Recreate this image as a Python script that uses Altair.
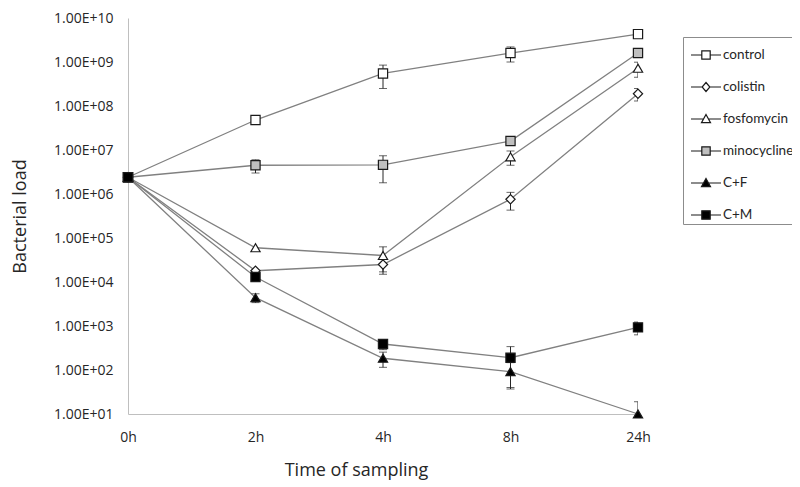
import altair as alt
import pandas as pd

times = ["0h", "2h", "4h", "8h", "24h"]
series = ["control", "colistin", "fosfomycin", "minocycline", "C+F", "C+M"]

control = [2.4e6, 4.8e7, 5.5e8, 1.6e9, 4.3e9]
colistin = [2.4e6, 1.8e4, 2.5e4, 7.6e5, 1.9e8]
fosfomycin = [2.4e6, 6.0e4, 4.0e4, 7.0e6, 7.2e8]
minocycline = [2.4e6, 4.5e6, 4.6e6, 1.6e7, 1.6e9]
c_f = [2.4e6, 4.4e3, 1.85e2, 9.2e1, 1.0e1]
c_m = [2.4e6, 1.3e4, 3.9e2, 1.9e2, 9.3e2]

control_sd = [0, 0, 3.0e8, 6.0e8, 0]
colistin_sd = [0, 0, 1.0e4, 3.3e5, 6.0e7]
fosfomycin_sd = [0, 0, 2.3e4, 2.5e6, 2.7e8]
minocycline_sd = [0, 1.5e6, 2.8e6, 3.0e6, 3.0e8]
c_f_sd = [0, 1.0e3, 7.0e1, 5.5e1, 9.0]
c_m_sd = [0, 2.0e3, 1.0e2, 1.5e2, 3.0e2]

y_ticks = [1e1, 1e2, 1e3, 1e4, 1e5, 1e6, 1e7, 1e8, 1e9, 1e10]

values = [control, colistin, fosfomycin, minocycline, c_f, c_m]
sds = [control_sd, colistin_sd, fosfomycin_sd, minocycline_sd, c_f_sd, c_m_sd]

rows = []
for s, vals, errs in zip(series, values, sds):
    for i, (t, v, e) in enumerate(zip(times, vals, errs)):
        rows.append({"series": s, "time": t, "t": i, "value": v, "sd": e,
                     "lo": v - e, "hi": v + e})
df = pd.DataFrame(rows)
err = df[df["sd"] > 0]

FONT = "Open Sans"
LFONT = "Lato"
TXT = "#262626"

shapes = ["square", "diamond", "triangle-up", "square", "triangle-up", "square"]
fills = ["white", "white", "white", "#bfbfbf", "black", "black"]
strokes = ["#1a1a1a"] * 6
legend_paths = [
    "M-1,0H-0.28M0.28,0H1M-0.28,-0.28H0.28V0.28H-0.28Z",
    "M-1,0H-0.26M0.26,0H1M0,-0.3L0.26,0L0,0.3L-0.26,0Z",
    "M-1,0H-0.17M0.17,0H1M0,-0.3L0.3,0.24H-0.3Z",
    "M-1,0H-0.28M0.28,0H1M-0.28,-0.28H0.28V0.28H-0.28Z",
    "M-1,0H-0.17M0.17,0H1M0,-0.3L0.3,0.24H-0.3Z",
    "M-1,0H-0.28M0.28,0H1M-0.28,-0.28H0.28V0.28H-0.28Z",
]

xs = alt.Scale(type="point", domain=times, padding=0)
x_enc = alt.X("time:N", scale=xs, sort=times,
              axis=alt.Axis(title="Time of sampling", labelFont=FONT, labelFontSize=14,
                            labelColor=TXT, labelPadding=16, labelAngle=0, ticks=False,
                            grid=False, domainColor="#bfbfbf", domainWidth=1,
                            titleFont=FONT, titleFontSize=18, titleFontWeight="normal",
                            titleColor=TXT, titleX=228, titleY=56, titleBaseline="middle"))
ys = alt.Scale(type="log", domain=[10, 1e10], nice=False)
y_enc = alt.Y("value:Q", scale=ys,
              axis=alt.Axis(values=y_ticks,
                            labelExpr="'1.00E+' + format(round(log(datum.value)/LN10), '02d')",
                            labelFont=FONT, labelFontSize=14, labelColor=TXT, labelPadding=15,
                            ticks=False, grid=False, domainColor="#bfbfbf", domainWidth=1,
                            title="Bacterial load", titleFont=FONT, titleFontSize=18,
                            titleFontWeight="normal", titleColor=TXT, titleX=-108, titleY=198,
                            titleBaseline="middle"))

lines = alt.Chart(df).mark_line(color="#808080", strokeWidth=1.3).encode(
    x=x_enc, y=y_enc, detail="series:N", order=alt.Order("t:Q"))

rules = alt.Chart(err).mark_rule(color=TXT, strokeWidth=1, clip=True).encode(
    x=alt.X("time:N", scale=xs, sort=times), y=alt.Y("lo:Q", scale=ys), y2="hi:Q")
caps_hi = alt.Chart(err).mark_tick(color=TXT, size=8, thickness=1, clip=True).encode(
    x=alt.X("time:N", scale=xs, sort=times), y=alt.Y("hi:Q", scale=ys))
caps_lo = alt.Chart(err).mark_tick(color=TXT, size=8, thickness=1, clip=True).encode(
    x=alt.X("time:N", scale=xs, sort=times), y=alt.Y("lo:Q", scale=ys))

points = alt.Chart(df).mark_point(filled=True, stroke="#1a1a1a", strokeWidth=1.2,
                                  opacity=1, size=85).encode(
    x=alt.X("time:N", scale=xs, sort=times), y=alt.Y("value:Q", scale=ys),
    shape=alt.Shape("series:N", scale=alt.Scale(domain=series, range=shapes), legend=None),
    fill=alt.Fill("series:N", scale=alt.Scale(domain=series, range=fills), legend=None),
)

leg = dict(orient="none", legendX=555, legendY=19, title=None, padding=2,
           strokeColor="#8c8c8c", fillColor="white", symbolSize=900,
           symbolStrokeWidth=1.2, symbolOffset=5,
           labelOffset=1, rowPadding=9, labelFont=LFONT, labelFontSize=13.5,
           labelColor=TXT, labelLimit=400)

legend_layer = alt.Chart(df).transform_filter("false").mark_point(
    filled=True, strokeWidth=1.2, opacity=1, size=900).encode(
    shape=alt.Shape("series:N", scale=alt.Scale(domain=series, range=legend_paths),
                    legend=alt.Legend(**leg)),
    fill=alt.Fill("series:N", scale=alt.Scale(domain=series, range=fills),
                  legend=alt.Legend(**leg)),
    stroke=alt.Stroke("series:N", scale=alt.Scale(domain=series, range=strokes),
                      legend=alt.Legend(**leg)),
)

chart = alt.layer(lines, rules, caps_hi, caps_lo, points, legend_layer).resolve_scale(
    shape="independent", fill="independent", stroke="independent"
).properties(
    width=510, height=396,
    autosize=alt.AutoSizeParams(type="none"),
    padding={"left": 120, "top": 10, "right": 154, "bottom": 70},
).configure_view(strokeWidth=0)

chart.save("out.html", embed_options={"renderer": "svg", "actions": False})
